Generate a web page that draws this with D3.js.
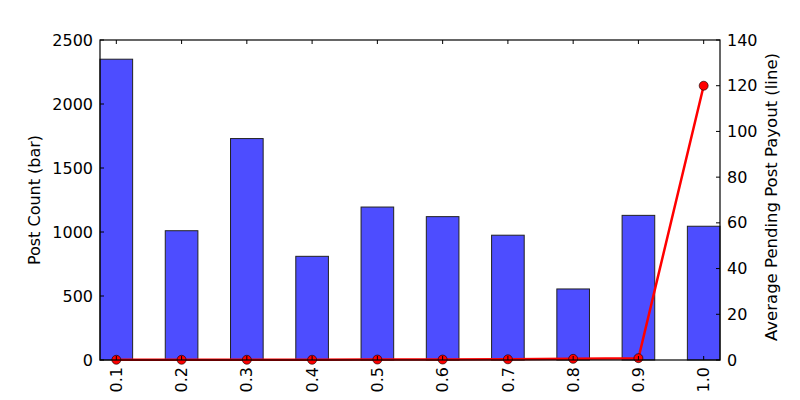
<!DOCTYPE html>
<html><head><meta charset="utf-8">
<script src="https://cdn.jsdelivr.net/npm/d3@7"></script>
<style>body{margin:0;background:#fff}svg{display:block}text{font-family:"DejaVu Sans",sans-serif}</style>
</head><body><svg id="c" width="800" height="400"></svg>
<script>
const categories = ["0.1","0.2","0.3","0.4","0.5","0.6","0.7","0.8","0.9","1.0"];
const postCounts = [2350, 1010, 1730, 810, 1195, 1120, 975, 555, 1130, 1045];
const avgPayout = [0.1, 0.1, 0.1, 0.1, 0.2, 0.2, 0.3, 0.5, 0.8, 120];
const leftTicks = [0, 500, 1000, 1500, 2000, 2500];
const rightTicks = [0, 20, 40, 60, 80, 100, 120, 140];

const svg = d3.select("#c");
const L = 100, R = 720, T = 40, B = 360;
const x = d3.scaleLinear().domain([-0.25, 9.25]).range([L, R]);
const yL = d3.scaleLinear().domain([0, 2500]).range([B, T]);
const yR = d3.scaleLinear().domain([0, 140]).range([B, T]);
const fs = 16;

// bars
svg.append("g").selectAll("rect").data(postCounts).join("rect")
  .attr("x", (d,i) => x(i - 0.25)).attr("width", x(0.5) - x(0))
  .attr("y", d => yL(d)).attr("height", d => yL(0) - yL(d))
  .attr("fill", "rgb(77,77,255)").attr("stroke", "#222").attr("stroke-width", 1);

// line
const line = d3.line().x((d,i) => x(i)).y(d => yR(d));
svg.append("path").datum(avgPayout).attr("d", line)
  .attr("fill", "none").attr("stroke", "#ff0000").attr("stroke-width", 2.5);
svg.append("g").selectAll("circle").data(avgPayout).join("circle")
  .attr("cx", (d,i) => x(i)).attr("cy", d => yR(d)).attr("r", 4.5)
  .attr("fill", "#ff0000").attr("stroke", "#000").attr("stroke-width", 0.6);

// frame
svg.append("rect").attr("x", L).attr("y", T).attr("width", R - L).attr("height", B - T)
  .attr("fill", "none").attr("stroke", "#000").attr("stroke-width", 1.2);

const tickLen = 4;
// left axis
const gL = svg.append("g");
leftTicks.forEach(v => {
  gL.append("line").attr("x1", L).attr("x2", L + tickLen).attr("y1", yL(v)).attr("y2", yL(v)).attr("stroke", "#000");
  gL.append("text").attr("x", L - 7).attr("y", yL(v)).attr("dy", "0.35em")
    .attr("text-anchor", "end").attr("font-size", fs).text(v);
});
// right axis
const gR = svg.append("g");
rightTicks.forEach(v => {
  gR.append("line").attr("x1", R).attr("x2", R - tickLen).attr("y1", yR(v)).attr("y2", yR(v)).attr("stroke", "#000");
  gR.append("text").attr("x", R + 7).attr("y", yR(v)).attr("dy", "0.35em")
    .attr("text-anchor", "start").attr("font-size", fs).text(v);
});
// x axis ticks
const gX = svg.append("g");
categories.forEach((c, i) => {
  gX.append("line").attr("x1", x(i)).attr("x2", x(i)).attr("y1", T).attr("y2", T + tickLen).attr("stroke", "#000");
  gX.append("line").attr("x1", x(i)).attr("x2", x(i)).attr("y1", B).attr("y2", B - tickLen).attr("stroke", "#000");
  gX.append("text").attr("transform", `translate(${x(i)},${B + 7}) rotate(-90)`)
    .attr("text-anchor", "end").attr("dy", "0.35em").attr("font-size", fs).text(c);
});

// axis labels
svg.append("text").attr("transform", `translate(40,${(T + B) / 2}) rotate(-90)`)
  .attr("text-anchor", "middle").attr("font-size", fs).text("Post Count (bar)");
svg.append("text").attr("transform", `translate(777,${(T + B) / 2 - 3}) rotate(-90)`)
  .attr("text-anchor", "middle").attr("font-size", 16.5).text("Average Pending Post Payout (line)");
svg.append("text").attr("x", (L + R) / 2 + 25).attr("y", 414)
  .attr("text-anchor", "middle").attr("font-size", fs).text("Voting Power");
</script></body></html>
